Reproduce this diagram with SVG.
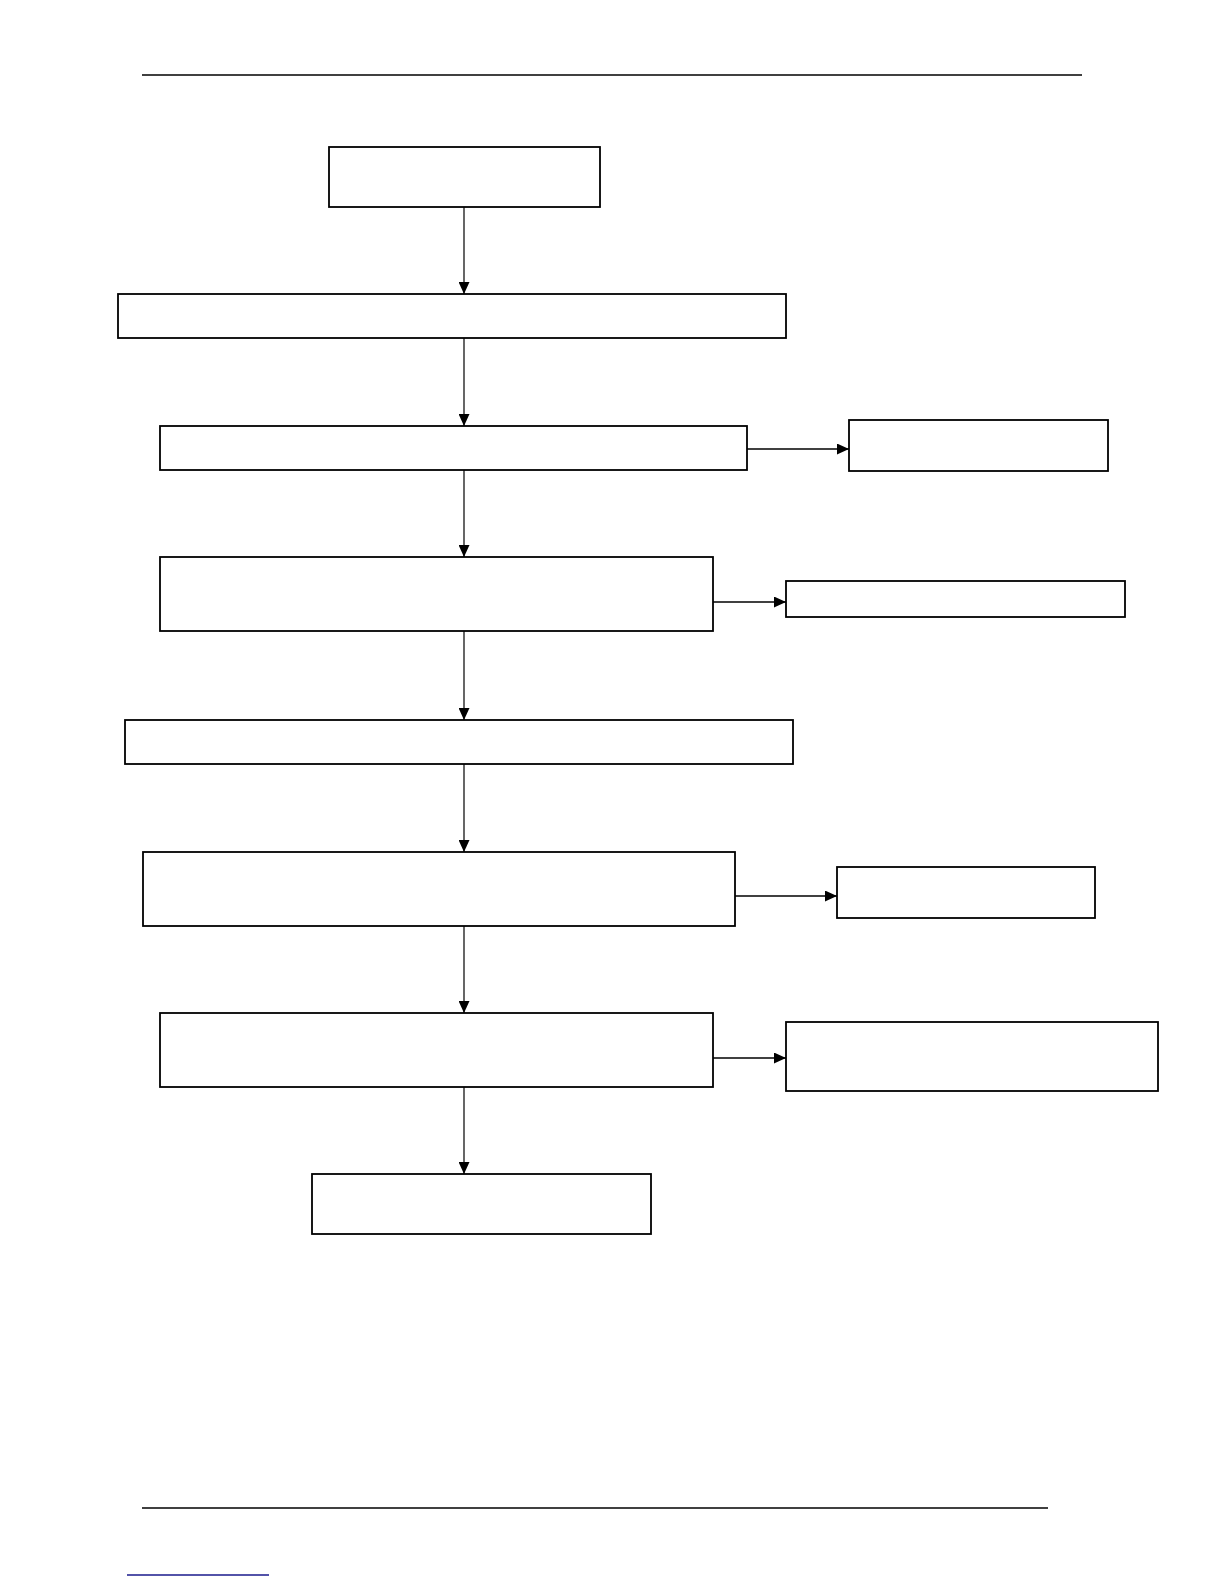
<svg xmlns="http://www.w3.org/2000/svg" width="1224" height="1584" viewBox="0 0 1224 1584">
<style>
.box{fill:#fff;stroke:#000;stroke-width:1.8}
.edge{stroke:#000;stroke-width:1.2;fill:none}
.hedge{stroke:#000;stroke-width:1.6;fill:none}
.rule{stroke:#000;stroke-width:1.5}
</style>
<defs>
<marker id="ah" markerWidth="13" markerHeight="11" refX="12" refY="5.5" orient="auto" markerUnits="userSpaceOnUse">
<path d="M0,0 L12,5.5 L0,11 Z" fill="#000"/>
</marker>
</defs>
<rect width="1224" height="1584" fill="#fff"/>
<line class="rule" x1="142" y1="75" x2="1082" y2="75"/>
<line class="rule" x1="142" y1="1508" x2="1048" y2="1508"/>
<line x1="127" y1="1575" x2="269" y2="1575" stroke="#1a1a8c" stroke-width="1.5"/>
<g id="connectors">
<line class="edge" x1="464" y1="207" x2="464" y2="294" marker-end="url(#ah)"/>
<line class="edge" x1="464" y1="338" x2="464" y2="426" marker-end="url(#ah)"/>
<line class="hedge" x1="747" y1="449" x2="849" y2="449" marker-end="url(#ah)"/>
<line class="edge" x1="464" y1="470" x2="464" y2="557" marker-end="url(#ah)"/>
<line class="hedge" x1="713" y1="602" x2="786" y2="602" marker-end="url(#ah)"/>
<line class="edge" x1="464" y1="631" x2="464" y2="720" marker-end="url(#ah)"/>
<line class="edge" x1="464" y1="764" x2="464" y2="852" marker-end="url(#ah)"/>
<line class="hedge" x1="735" y1="896" x2="837" y2="896" marker-end="url(#ah)"/>
<line class="edge" x1="464" y1="926" x2="464" y2="1013" marker-end="url(#ah)"/>
<line class="hedge" x1="713" y1="1058" x2="786" y2="1058" marker-end="url(#ah)"/>
<line class="edge" x1="464" y1="1087" x2="464" y2="1174" marker-end="url(#ah)"/>
</g>
<g id="n1"><rect class="box" x="329" y="147" width="271" height="60"/></g>
<g id="n2"><rect class="box" x="118" y="294" width="668" height="44"/></g>
<g id="n3"><rect class="box" x="160" y="426" width="587" height="44"/></g>
<g id="n3a"><rect class="box" x="849" y="420" width="259" height="51"/></g>
<g id="n4"><rect class="box" x="160" y="557" width="553" height="74"/></g>
<g id="n4a"><rect class="box" x="786" y="581" width="339" height="36"/></g>
<g id="n5"><rect class="box" x="125" y="720" width="668" height="44"/></g>
<g id="n6"><rect class="box" x="143" y="852" width="592" height="74"/></g>
<g id="n6a"><rect class="box" x="837" y="867" width="258" height="51"/></g>
<g id="n7"><rect class="box" x="160" y="1013" width="553" height="74"/></g>
<g id="n7a"><rect class="box" x="786" y="1022" width="372" height="69"/></g>
<g id="n8"><rect class="box" x="312" y="1174" width="339" height="60"/></g>
</svg>
